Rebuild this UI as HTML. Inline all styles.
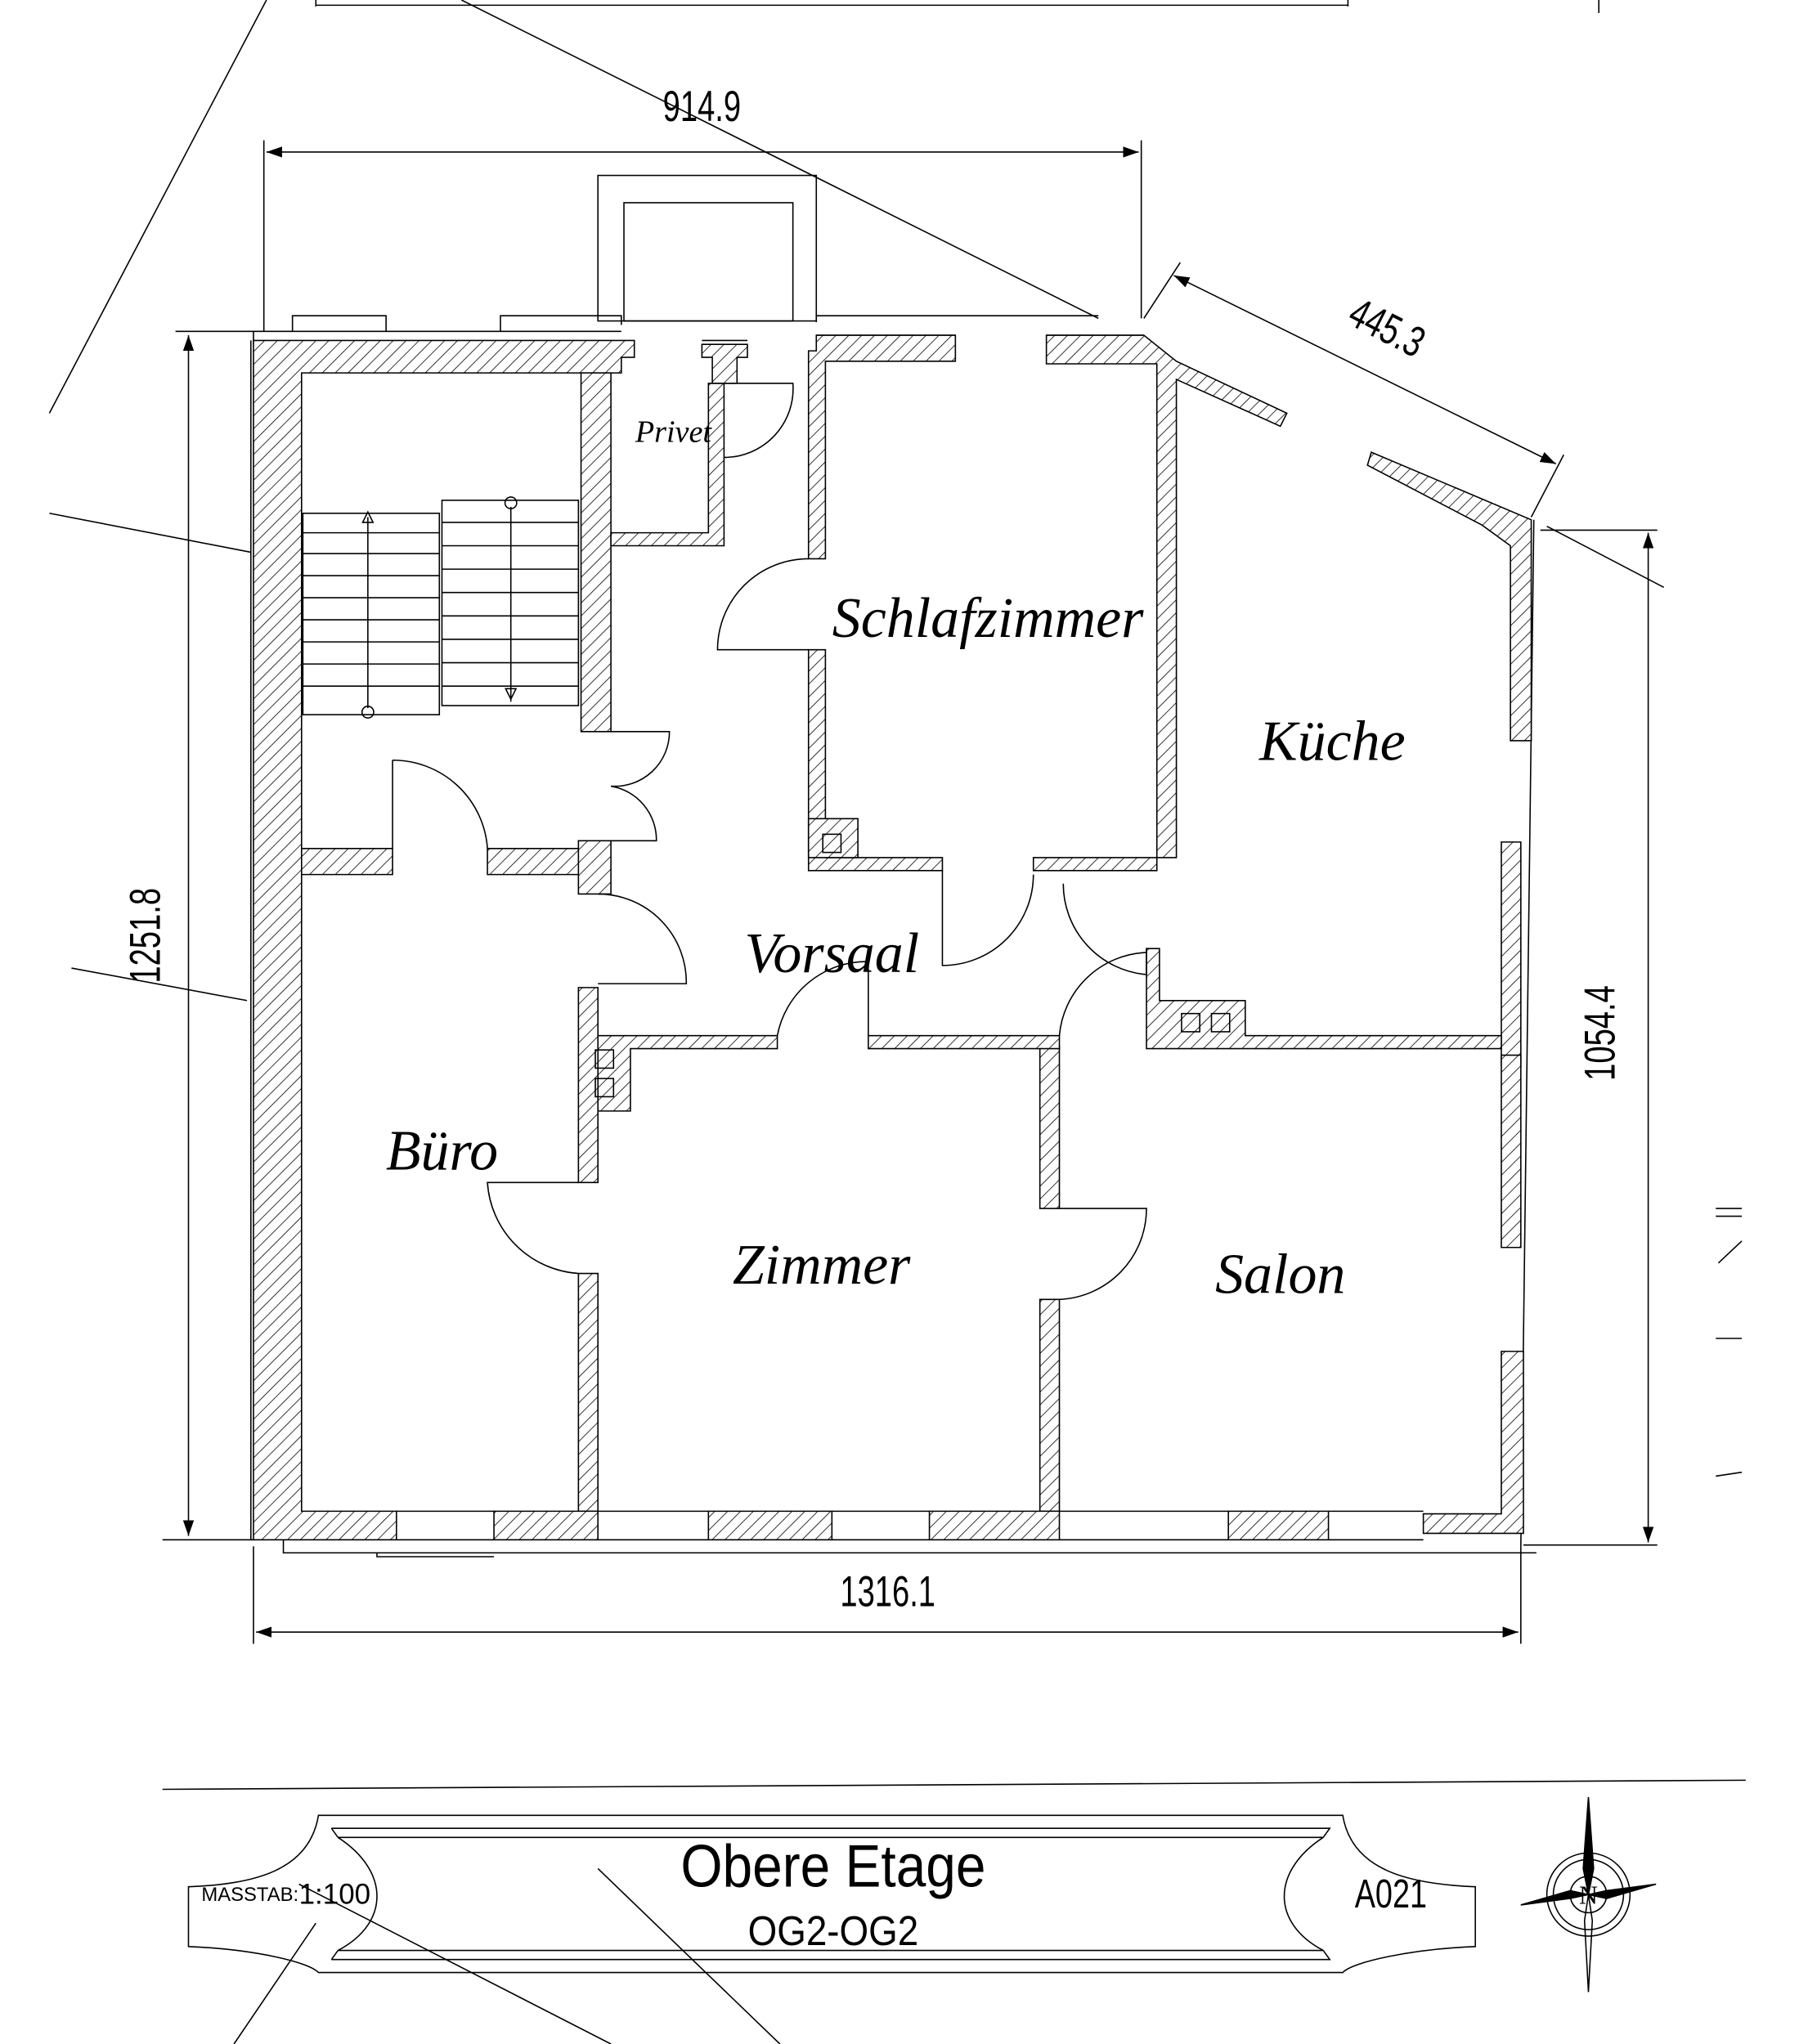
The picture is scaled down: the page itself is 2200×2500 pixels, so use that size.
<!DOCTYPE html>
<html><head><meta charset="utf-8"><style>html,body{margin:0;padding:0;background:#fff}svg{display:block}</style></head>
<body>
<svg xmlns="http://www.w3.org/2000/svg" width="2200" height="2500" viewBox="0 0 1384 1573" preserveAspectRatio="none" font-family="Liberation Sans, sans-serif">
<defs>
<pattern id="h" width="7" height="7" patternUnits="userSpaceOnUse" patternTransform="rotate(45)">
<rect width="7" height="7" fill="#fff"/><line x1="0" y1="0" x2="0" y2="7" stroke="#000" stroke-width="1"/>
</pattern>
<marker id="a" viewBox="0 0 10 10" refX="10" refY="5" markerWidth="12" markerHeight="12" orient="auto-start-reverse" markerUnits="userSpaceOnUse"><path d="M0,1.5 L10,5 L0,8.5z" fill="#000"/></marker>
</defs>
<g fill="none" stroke="#000" stroke-width="1">
<line x1="355" y1="0" x2="845" y2="245"/>
<line x1="205" y1="0" x2="38" y2="318"/>
<line x1="38" y1="395" x2="193" y2="425"/>
<line x1="55" y1="745" x2="190" y2="770"/>
<line x1="1190" y1="405" x2="1280" y2="452"/>
<line x1="243" y1="0" x2="243" y2="5"/><line x1="243" y1="4" x2="1037" y2="4"/><line x1="1037" y1="0" x2="1037" y2="5"/>
<line x1="1230" y1="0" x2="1230" y2="10"/>
<line x1="193" y1="262" x2="193" y2="1185"/>
<line x1="1180" y1="400" x2="1170" y2="1190"/>
<line x1="1320" y1="930" x2="1340" y2="930"/><line x1="1320" y1="936" x2="1340" y2="936"/><line x1="1322" y1="972" x2="1340" y2="955"/>
<line x1="1320" y1="1030" x2="1340" y2="1030"/><line x1="1320" y1="1136" x2="1340" y2="1133"/>
<rect x="460" y="135" width="168" height="112"/>
<rect x="480" y="156" width="130" height="91"/>
<path d="M225,255 V243 H297 V255 M385,255 V243 H478 V250 M628,248 V243 H845"/>
<path d="M195,265 V255 H478 M540,262 H575 M628,258 H735 M805,258 H880"/>
<g fill="url(#h)">
<path d="M195,262 H488 V275 H478 V287 H232 V1163 H305 V1185 H195 Z"/>
<path d="M447,287 H470 V563 H447 Z"/>
<path d="M470,410 H545 V295 H557 V420 H470 Z"/>
<path d="M540,265 H575 V275 H567 V295 H548 V275 H540 Z"/>
<path d="M628,258 H735 V278 H635 V430 H622 V270 H628 Z"/>
<path d="M622,500 H635 V660 H725 V670 H622 Z"/>
<path d="M805,258 H880 L905,278 L990,318 L985,328 L905,292 V660 H890 V280 H805 Z"/>
<path d="M795,660 H890 V670 H795 Z"/>
<path d="M1055,348 L1178,400 V570 H1162 V420 L1140,404 L1052,358 Z"/>
<path d="M1155,648 H1170 V820 H1155 Z"/>
<path d="M1155,812 H1170 V960 H1155 Z"/>
<path d="M1155,1040 H1172 V1180 H1095 V1165 H1155 Z"/>
<path d="M882,730 H892 V770 H958 V797 H1155 V807 H882 Z"/>
<path d="M800,805 H815 V930 H800 Z"/>
<path d="M800,1000 H815 V1163 H800 Z"/>
<path d="M460,797 H598 V807 H485 V855 H460 Z"/>
<path d="M668,797 H815 V807 H668 Z"/>
<path d="M445,760 H460 V910 H445 Z"/>
<path d="M445,980 H460 V1163 H445 Z"/>
<path d="M232,653 H302 V673 H232 Z"/>
<path d="M375,653 H460 V673 H375 Z"/>
<path d="M445,647 H470 V688 H445 Z"/>
<path d="M380,1163 H460 V1185 H380 Z"/>
<path d="M545,1163 H640 V1185 H545 Z"/>
<path d="M715,1163 H815 V1185 H715 Z"/>
<path d="M945,1163 H1022 V1185 H945 Z"/>
<path d="M622,630 H660 V660 H622 Z"/>
</g>
<path d="M305,1163 H380 M305,1185 H380 M460,1163 H545 M460,1185 H545 M640,1163 H715 M640,1185 H715 M815,1163 H945 M815,1185 H945 M1022,1163 H1095 M1022,1185 H1095"/>
<rect x="633" y="642" width="14" height="14"/>
<rect x="909" y="780" width="14" height="14"/><rect x="932" y="780" width="14" height="14"/>
<rect x="458" y="808" width="14" height="14"/><rect x="458" y="830" width="14" height="14"/>
<path d="M218,1185 V1195 H1182 M290,1195 V1198 H380"/>
<rect x="233" y="395" width="105" height="155"/>
<rect x="340" y="385" width="105" height="158"/>
<g>
<line x1="233" y1="410" x2="338" y2="410"/><line x1="233" y1="426" x2="338" y2="426"/><line x1="233" y1="443" x2="338" y2="443"/><line x1="233" y1="460" x2="338" y2="460"/><line x1="233" y1="477" x2="338" y2="477"/><line x1="233" y1="494" x2="338" y2="494"/><line x1="233" y1="511" x2="338" y2="511"/><line x1="233" y1="528" x2="338" y2="528"/>
<line x1="340" y1="402" x2="445" y2="402"/><line x1="340" y1="420" x2="445" y2="420"/><line x1="340" y1="438" x2="445" y2="438"/><line x1="340" y1="456" x2="445" y2="456"/><line x1="340" y1="474" x2="445" y2="474"/><line x1="340" y1="492" x2="445" y2="492"/><line x1="340" y1="510" x2="445" y2="510"/><line x1="340" y1="528" x2="445" y2="528"/>
<line x1="283" y1="545" x2="283" y2="398"/><path d="M279,402 L283,394 L287,402 Z"/><circle cx="283" cy="548" r="4.5"/>
<line x1="393" y1="390" x2="393" y2="540"/><path d="M389,530 L393,538 L397,530 Z"/><circle cx="393" cy="387" r="4.5"/>
</g>
<path d="M557,295 H610 A53,53 0 0 1 557,352"/>
<path d="M622,430 A70,70 0 0 0 552,500 H622"/>
<path d="M470,563 H515 A42,42 0 0 1 470,605 A42,42 0 0 1 505,647 H470"/>
<path d="M302,585 A73,73 0 0 1 375,653 M302,585 V653"/>
<path d="M460,688 A68,68 0 0 1 528,757 H460"/>
<path d="M725,670 V743 A70,70 0 0 0 795,673"/>
<path d="M598,797 A70,70 0 0 1 668,740 V797"/>
<path d="M818,680 A70,70 0 0 0 882,750 M882,730 V750"/>
<path d="M815,797 A70,70 0 0 1 882,733"/>
<path d="M445,910 H375 A75,75 0 0 0 445,980"/>
<path d="M815,930 H882 A70,70 0 0 1 815,1000"/>
<line x1="203" y1="108" x2="203" y2="255"/><line x1="878" y1="108" x2="878" y2="245"/>
<line x1="205" y1="117" x2="876" y2="117" marker-start="url(#a)" marker-end="url(#a)"/>
<line x1="135" y1="255" x2="195" y2="255"/><line x1="125" y1="1185" x2="195" y2="1185"/>
<line x1="145" y1="258" x2="145" y2="1182" marker-start="url(#a)" marker-end="url(#a)"/>
<line x1="195" y1="1190" x2="195" y2="1265"/><line x1="1170" y1="1190" x2="1170" y2="1265"/>
<line x1="197" y1="1256" x2="1168" y2="1256" marker-start="url(#a)" marker-end="url(#a)"/>
<line x1="1185" y1="408" x2="1275" y2="408"/><line x1="1172" y1="1189" x2="1275" y2="1189"/>
<line x1="1268" y1="410" x2="1268" y2="1187" marker-start="url(#a)" marker-end="url(#a)"/>
<line x1="880" y1="245" x2="908" y2="202"/><line x1="1178" y1="398" x2="1203" y2="350"/>
<line x1="903" y1="212" x2="1197" y2="357" marker-start="url(#a)" marker-end="url(#a)"/>
<line x1="125" y1="1377" x2="1343" y2="1370"/>
<path d="M245,1397 H1033 C1040,1440 1085,1450 1135,1452 V1498 C1085,1500 1040,1510 1033,1518 H245 C238,1510 195,1500 145,1498 V1452 C195,1450 238,1440 245,1397 Z"/>
<path d="M255,1407 H1023 L1018,1414 M255,1407 L260,1414 M255,1508 H1023 L1018,1501 M255,1508 L260,1501"/>
<path d="M260,1414 H1018 M260,1501 H1018"/>
<path d="M260,1414 C300,1440 300,1480 260,1501 M1018,1414 C978,1440 978,1480 1018,1501"/>
<line x1="460" y1="1438" x2="600" y2="1573"/>
<line x1="230" y1="1450" x2="470" y2="1573"/>
<line x1="243" y1="1480" x2="180" y2="1573"/>
<g transform="translate(1222,1458)">
<circle r="32"/><circle r="27"/><circle r="14"/>
<path d="M0,-75 L4,-20 L0,0 L-4,-20 Z" fill="#000"/>
<path d="M0,75 L3,20 L0,0 L-3,20 Z"/>
<path d="M-52,8 L-14,3 L0,0 L-14,-3 Z" fill="#000"/>
<path d="M52,-8 L14,-3 L0,0 L14,3 Z" fill="#000"/>
<text x="0" y="7" font-family="Liberation Serif, serif" font-size="20" text-anchor="middle" fill="#000" stroke="none">N</text>
</g>
</g>
<g fill="#000">
<text transform="translate(540,93) scale(0.8,1.1)" font-size="30" text-anchor="middle">914.9</text>
<text transform="translate(683,1236) scale(0.8,1.1)" font-size="30" text-anchor="middle">1316.1</text>
<text transform="translate(123,720) rotate(-90) scale(0.8,1.1)" font-size="30" text-anchor="middle">1251.8</text>
<text transform="translate(1242,795) rotate(-90) scale(0.8,1.1)" font-size="30" text-anchor="middle">1054.4</text>
<text transform="translate(1062,262) rotate(27) scale(0.8,1.1)" font-size="30" text-anchor="middle">445.3</text>
<text transform="translate(641,1452) scale(0.9,1)" font-size="46" text-anchor="middle">Obere Etage</text>
<text transform="translate(641,1497) scale(0.9,1)" font-size="32" text-anchor="middle">OG2-OG2</text>
<text x="155" y="1463" font-size="15">MASSTAB:</text>
<text x="230" y="1465" font-size="22">1:100</text>
<text transform="translate(1070,1468) scale(0.85,1.1)" font-size="28" text-anchor="middle">A021</text>
<g font-family="Liberation Serif, serif" font-style="italic">
<text x="518" y="340" font-size="24" text-anchor="middle">Privet</text>
<text x="760" y="490" font-size="44" text-anchor="middle">Schlafzimmer</text>
<text x="1025" y="585" font-size="44" text-anchor="middle">Küche</text>
<text x="640" y="748" font-size="44" text-anchor="middle">Vorsaal</text>
<text x="340" y="900" font-size="44" text-anchor="middle">Büro</text>
<text x="632" y="988" font-size="44" text-anchor="middle">Zimmer</text>
<text x="985" y="995" font-size="44" text-anchor="middle">Salon</text>
</g>
</g>
</svg>
</body></html>
